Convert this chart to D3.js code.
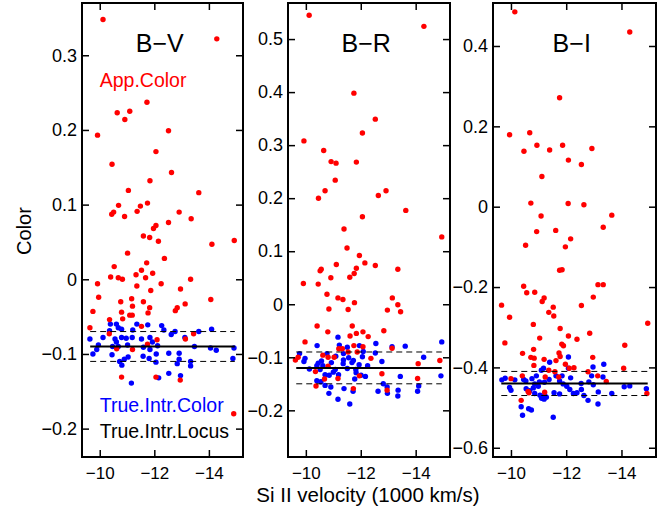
<!DOCTYPE html>
<html><head><meta charset="utf-8">
<script src="https://cdn.jsdelivr.net/npm/d3@7"></script>
<style>body{margin:0;background:#fff} svg{display:block} text{font-family:"Liberation Sans",Arial,Helvetica,sans-serif}</style>
</head><body><svg id="c" width="670" height="506"></svg>
<script>
// ---- data ----
const panelNames = ["B\u2212V", "B\u2212R", "B\u2212I"];
const xTicks = [-10, -12, -14];
const yTicksBV = [-0.2, -0.1, 0, 0.1, 0.2, 0.3];
const yTicksBR = [-0.2, -0.1, 0, 0.1, 0.2, 0.3, 0.4, 0.5];
const yTicksBI = [-0.6, -0.4, -0.2, 0, 0.2, 0.4];
const xDomain = [-9.35, -15.25];
const yDomainBV = [-0.238, 0.37];
const yDomainBR = [-0.288, 0.568];
const yDomainBI = [-0.623, 0.507];
const locusCenter = [-0.09, -0.12, -0.44];
const locusHalfWidth = [0.02, 0.03, 0.03];
const locusRange = [-9.65, -14.95];

// [velocity, color]
const bvApp = [[-10.12,0.348],[-14.29,0.322],[-9.92,0.193],[-11.73,0.237],[-10.64,0.223],[-11.10,0.225],[-10.92,0.214],[-12.52,0.199],[-12.06,0.171],[-10.45,0.154],[-12.63,0.143],[-11.84,0.132],[-11.05,0.119],[-13.63,0.116],[-11.75,0.102],[-11.49,0.098],[-10.69,0.099],[-10.51,0.090],[-10.44,0.087],[-10.91,0.084],[-11.37,0.091],[-12.91,0.090],[-13.35,0.081],[-12.52,0.076],[-12.06,0.072],[-11.97,0.068],[-11.60,0.058],[-11.83,0.056],[-12.15,0.051],[-14.11,0.047],[-14.93,0.052],
[-11.02,0.035],[-12.37,0.028],[-11.72,0.022],[-10.53,0.017],[-11.53,0.012],[-11.33,0.006],[-11.94,0.008],[-10.40,0.003],[-10.68,0.002],[-10.83,0.000],[-11.68,0.002],[-13.33,0.000],[-9.92,-0.006],[-11.36,-0.009],[-12.25,-0.006],[-12.96,-0.013],[-11.87,-0.015],[-9.96,-0.024],[-11.17,-0.026],[-11.60,-0.030],[-10.77,-0.030],[-13.13,-0.033],[-14.07,-0.027],[-11.20,-0.036],[-11.83,-0.038],[-12.84,-0.038],[-12.77,-0.042],[-9.75,-0.043],[-10.80,-0.044],[-11.77,-0.045],[-11.10,-0.048],[-11.19,-0.048],[-10.84,-0.053],[-10.36,-0.054],[-9.64,-0.065],[-11.53,-0.063],[-10.35,-0.073],[-13.44,-0.073],[-12.10,-0.081],[-13.14,-0.080],[-11.75,-0.087],[-10.62,-0.093],[-11.20,-0.094],[-10.80,-0.131],[-12.06,-0.131],[-12.95,-0.135],[-14.91,-0.180]];
const bvTrue = [[-10.39,-0.060],[-10.61,-0.060],[-11.36,-0.060],[-11.76,-0.061],[-10.36,-0.069],[-10.68,-0.065],[-10.80,-0.067],[-11.21,-0.068],[-12.27,-0.062],[-12.35,-0.068],[-12.76,-0.070],[-13.63,-0.070],[-14.10,-0.067],[-9.64,-0.080],[-10.12,-0.078],[-10.56,-0.080],[-10.61,-0.084],[-10.80,-0.078],[-10.97,-0.079],[-11.19,-0.078],[-11.53,-0.080],[-11.84,-0.078],[-11.93,-0.084],[-12.62,-0.074],[-13.12,-0.078],[-9.95,-0.088],[-9.89,-0.094],[-10.47,-0.090],[-10.68,-0.090],[-11.02,-0.088],[-11.60,-0.091],[-11.84,-0.094],[-12.12,-0.089],[-13.47,-0.090],[-14.06,-0.092],[-14.27,-0.095],[-14.92,-0.092],[-9.75,-0.100],[-10.45,-0.101],[-11.59,-0.103],[-11.81,-0.106],[-12.07,-0.100],[-12.53,-0.099],[-12.91,-0.099],[-10.90,-0.107],[-11.04,-0.104],[-10.73,-0.110],[-10.81,-0.115],[-12.06,-0.111],[-12.91,-0.107],[-12.84,-0.113],[-13.33,-0.110],[-13.33,-0.116],[-14.88,-0.106],[-12.53,-0.126],[-12.96,-0.129],[-12.16,-0.132],[-11.16,-0.139]];

const brApp = [[-10.12,0.545],[-14.30,0.524],[-11.75,0.398],[-12.53,0.349],[-12.06,0.323],[-9.93,0.308],[-10.65,0.290],[-10.92,0.269],[-11.10,0.266],[-11.84,0.268],[-11.07,0.234],[-10.70,0.214],[-10.46,0.200],[-12.64,0.205],[-12.92,0.214],[-13.64,0.177],[-12.06,0.165],[-11.39,0.142],[-14.95,0.127],[-11.50,0.106],
[-11.95,0.092],[-11.11,0.075],[-12.15,0.078],[-12.53,0.073],[-10.56,0.066],[-10.52,0.063],[-11.84,0.068],[-11.76,0.058],[-11.60,0.051],[-10.91,0.050],[-13.35,0.066],[-9.91,0.039],[-10.45,0.038],[-10.77,0.019],[-11.17,0.012],[-11.35,0.009],[-11.77,0.003],[-13.15,0.012],[-13.35,-0.001],[-10.84,-0.009],[-11.54,-0.010],[-12.97,-0.011],[-13.45,-0.014],[-10.41,-0.041],[-11.69,-0.041],[-12.84,-0.050],[-10.80,-0.052],[-11.84,-0.055],[-12.08,-0.052],[-11.61,-0.060],[-12.27,-0.061],[-9.97,-0.071],[-11.20,-0.084],[-11.33,-0.084],[-11.75,-0.078],[-12.08,-0.080],[-11.54,-0.090],[-11.87,-0.090],[-13.14,-0.083],[-10.62,-0.096],[-10.81,-0.100],[-11.03,-0.100],[-9.62,-0.105],[-9.72,-0.100],[-12.37,-0.102],[-14.88,-0.106],[-10.81,-0.117],[-14.09,-0.112],[-10.35,-0.127],[-11.95,-0.135],[-12.77,-0.131],[-10.68,-0.141],[-11.17,-0.140],[-14.07,-0.140],[-10.37,-0.154],[-11.73,-0.159],[-12.96,-0.162]];
const brTrue = [[-11.17,-0.062],[-10.41,-0.078],[-11.22,-0.077],[-11.51,-0.081],[-11.95,-0.078],[-12.55,-0.074],[-13.14,-0.080],[-13.62,-0.079],[-14.95,-0.071],[-9.77,-0.093],[-10.77,-0.093],[-11.37,-0.093],[-12.09,-0.089],[-12.53,-0.092],[-9.97,-0.102],[-11.09,-0.098],[-11.56,-0.101],[-12.06,-0.099],[-14.29,-0.100],[-9.93,-0.108],[-10.57,-0.107],[-11.37,-0.105],[-11.73,-0.106],[-10.45,-0.111],[-10.62,-0.116],[-10.40,-0.116],[-10.93,-0.110],[-11.36,-0.112],[-11.68,-0.110],[-11.94,-0.114],[-12.25,-0.116],[-12.77,-0.108],[-10.13,-0.122],[-10.52,-0.123],[-11.07,-0.123],[-11.51,-0.121],[-11.82,-0.123],[-11.00,-0.128],[-11.83,-0.129],[-10.70,-0.133],[-10.85,-0.134],[-11.19,-0.133],[-12.01,-0.134],[-12.17,-0.136],[-13.44,-0.136],[-14.92,-0.135],[-11.78,-0.141],[-10.40,-0.144],[-10.55,-0.146],[-10.70,-0.153],[-10.91,-0.156],[-11.39,-0.159],[-11.72,-0.164],[-12.82,-0.150],[-12.96,-0.156],[-12.63,-0.164],[-13.36,-0.162],[-14.11,-0.154],[-14.07,-0.164],[-10.84,-0.168],[-12.97,-0.168],[-13.35,-0.173],[-11.17,-0.179],[-11.60,-0.188]];

const biApp = [[-10.14,0.485],[-14.30,0.435],[-11.76,0.271],[-9.95,0.179],[-10.68,0.184],[-10.47,0.138],[-10.94,0.153],[-11.87,0.153],[-11.40,0.141],[-12.93,0.145],[-12.08,0.116],[-12.55,0.105],[-11.12,0.075],[-10.72,0.009],[-12.07,0.008],[-12.64,0.005],[-11.09,-0.023],[-13.65,-0.021],[-13.34,-0.051],[-10.93,-0.062],[-11.62,-0.059],[-12.16,-0.080],[-10.53,-0.096],[-11.97,-0.100],
[-10.46,-0.198],[-10.57,-0.214],[-10.86,-0.213],[-11.20,-0.227],[-11.13,-0.236],[-9.66,-0.245],[-11.76,-0.158],[-11.85,-0.157],[-13.15,-0.194],[-13.34,-0.194],[-12.98,-0.225],[-11.53,-0.250],[-11.37,-0.263],[-11.55,-0.272],[-12.55,-0.246],[-9.95,-0.275],[-10.81,-0.293],[-11.78,-0.303],[-12.85,-0.315],[-14.95,-0.290],[-9.78,-0.339],[-11.04,-0.327],[-12.08,-0.322],[-12.39,-0.330],[-11.84,-0.342],[-11.90,-0.346],[-10.82,-0.355],[-10.42,-0.365],[-11.74,-0.364],[-14.12,-0.345],[-10.72,-0.375],[-10.84,-0.377],[-11.78,-0.373],[-11.63,-0.383],[-11.20,-0.380],[-12.96,-0.375],[-10.83,-0.395],[-11.97,-0.392],[-12.11,-0.402],[-12.28,-0.401],[-11.37,-0.407],[-11.59,-0.411],[-12.79,-0.411],[-14.08,-0.402],[-10.41,-0.421],[-11.24,-0.424],[-11.73,-0.424],[-13.14,-0.421],[-13.45,-0.435],[-10.00,-0.428],[-10.62,-0.460],[-10.65,-0.463],[-11.22,-0.462],[-10.37,-0.482],[-14.92,-0.465]];
const biTrue = [[-11.40,-0.387],[-12.08,-0.374],[-13.36,-0.392],[-12.97,-0.399],[-12.08,-0.402],[-11.18,-0.402],[-11.10,-0.407],[-9.67,-0.431],[-9.79,-0.427],[-10.14,-0.431],[-9.95,-0.450],[-10.00,-0.457],[-10.46,-0.430],[-10.54,-0.434],[-10.92,-0.421],[-10.76,-0.428],[-11.38,-0.430],[-11.63,-0.421],[-11.85,-0.421],[-12.16,-0.426],[-12.92,-0.421],[-13.33,-0.424],[-10.86,-0.441],[-11.03,-0.436],[-11.21,-0.437],[-11.76,-0.434],[-11.89,-0.441],[-12.54,-0.440],[-12.82,-0.436],[-12.98,-0.443],[-10.99,-0.447],[-12.02,-0.447],[-10.55,-0.453],[-10.81,-0.451],[-12.13,-0.455],[-12.55,-0.455],[-14.10,-0.448],[-14.30,-0.446],[-14.90,-0.453],[-10.68,-0.458],[-10.86,-0.465],[-11.05,-0.469],[-11.22,-0.469],[-11.56,-0.463],[-11.76,-0.466],[-12.26,-0.465],[-12.39,-0.463],[-12.64,-0.470],[-13.16,-0.461],[-13.65,-0.465],[-11.11,-0.477],[-11.20,-0.479],[-11.28,-0.474],[-12.79,-0.482],[-13.15,-0.491],[-10.37,-0.498],[-10.64,-0.503],[-10.74,-0.506],[-10.42,-0.519],[-11.53,-0.524]];

const appLabel = "App.Color";
const trueLabel = "True.Intr.Color";
const locusLabel = "True.Intr.Locus";
const xLabel = "Si II velocity (1000 km/s)";
const yLabel = "Color";

// ---- layout ----
const svg = d3.select("#c");
const plotTop = 3, plotBottom = 457;
const panelX = [[82, 243], [288, 450], [493, 656]];
const yDomains = [yDomainBV, yDomainBR, yDomainBI];
const yTickSets = [yTicksBV, yTicksBR, yTicksBI];
const appSets = [bvApp, brApp, biApp];
const trueSets = [bvTrue, brTrue, biTrue];
const fmtY = v => v === 0 ? "0" : d3.format(".1f")(v);
const RED = "#ff0000", BLUE = "#0000ff";

panelX.forEach(([x0, x1], i) => {
  const x = d3.scaleLinear().domain(xDomain).range([x0, x1]);
  const y = d3.scaleLinear().domain(yDomains[i]).range([plotBottom, plotTop]);
  const g = svg.append("g");

  g.append("g").selectAll("circle").data(trueSets[i]).join("circle")
    .attr("cx", d => x(d[0])).attr("cy", d => y(d[1])).attr("r", 2.7).attr("fill", BLUE);
  g.append("g").selectAll("circle").data(appSets[i]).join("circle")
    .attr("cx", d => x(d[0])).attr("cy", d => y(d[1])).attr("r", 2.7).attr("fill", RED);

  const c = locusCenter[i], h = locusHalfWidth[i];
  g.append("line").attr("x1", x(locusRange[0])).attr("x2", x(locusRange[1]))
    .attr("y1", y(c)).attr("y2", y(c)).attr("stroke", "#000").attr("stroke-width", 2);
  [c + h, c - h].forEach(v => {
    g.append("line").attr("x1", x(locusRange[0])).attr("x2", x(locusRange[1]))
      .attr("y1", y(v)).attr("y2", y(v)).attr("stroke", "#000").attr("stroke-width", 1)
      .attr("stroke-dasharray", "6,4");
  });

  const tick = -7;
  const style = sel => {
    sel.select(".domain").remove();
    sel.selectAll(".tick line").attr("stroke", "#000").attr("stroke-width", 1.5);
    sel.selectAll("text").attr("fill", "#000").style("font-size", "18px")
      .style("font-family", "'Liberation Sans', Arial, sans-serif");
  };
  g.append("g").attr("transform", `translate(${x0},0)`)
    .call(d3.axisLeft(y).tickValues(yTickSets[i]).tickFormat(fmtY).tickSize(tick).tickPadding(5)).call(style);
  g.append("g").attr("transform", `translate(${x1},0)`)
    .call(d3.axisRight(y).tickValues(yTickSets[i]).tickFormat("").tickSize(tick)).call(style);
  g.append("g").attr("transform", `translate(0,${plotBottom})`)
    .call(d3.axisBottom(x).tickValues(xTicks).tickFormat(d3.format("d")).tickSize(tick).tickPadding(10)).call(style)
    .call(s => s.selectAll("text").style("font-size", "17px"));
  g.append("g").attr("transform", `translate(0,${plotTop})`)
    .call(d3.axisTop(x).tickValues(xTicks).tickFormat("").tickSize(tick)).call(style);

  g.append("rect").attr("x", x0).attr("y", plotTop).attr("width", x1 - x0).attr("height", plotBottom - plotTop)
    .attr("fill", "none").attr("stroke", "#000").attr("stroke-width", 2);

  g.append("text").attr("x", x(-12.2)).attr("y", 52).attr("text-anchor", "middle")
    .style("font-size", "25px").text(panelNames[i]);

  if (i === 0) {
    g.append("text").attr("x", x(-10)).attr("y", 87).attr("fill", RED)
      .style("font-size", "19.5px").text(appLabel);
    g.append("text").attr("x", x(-10)).attr("y", 412).attr("fill", BLUE)
      .style("font-size", "19.5px").text(trueLabel);
    g.append("text").attr("x", x(-10)).attr("y", 438).attr("fill", "#000")
      .style("font-size", "19.5px").text(locusLabel);
  }
});

svg.append("text").attr("x", 368).attr("y", 502).attr("text-anchor", "middle")
  .style("font-size", "20.5px").text(xLabel);
svg.append("text").attr("transform", "translate(31,231) rotate(-90)").attr("text-anchor", "middle")
  .style("font-size", "20px").text(yLabel);
</script></body></html>
